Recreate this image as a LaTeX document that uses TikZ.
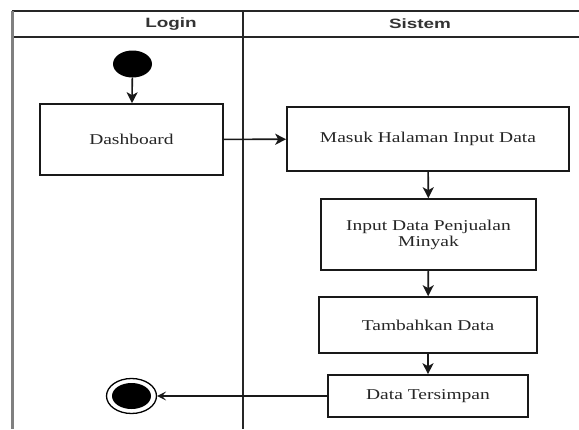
\documentclass[tikz,border=0pt]{standalone}
\usepackage{fontspec}
\setmainfont{Liberation Serif}[FakeStretch=1.3]
\newfontfamily\hdrfont{Liberation Sans}[FakeStretch=1.4]
\usetikzlibrary{arrows.meta,shapes.geometric}
\begin{document}
\begin{tikzpicture}[x=1pt,y=-1pt,
  act/.style={draw=black!90, line width=1.6pt, rectangle, inner sep=0pt, align=center,
    font=\fontsize{15}{18}\selectfont, text=black!85},
  flow/.style={line width=1.6pt, draw=black!90, -{Stealth[length=11pt,width=11pt,inset=3pt]}},
  lane/.style={line width=1.6pt, draw=black!85},
  hdr/.style={font=\hdrfont\bfseries\fontsize{13.5}{15}\selectfont, text=black!80, inner sep=0pt}]
\useasboundingbox (0,0) rectangle (579,429);
\fill[white] (0,0) rectangle (579,429);
% swimlane frame
\coordinate (tl) at (12,11);
\coordinate (tr) at (579,11);
\coordinate (hl) at (12,37);
\coordinate (hr) at (579,37);
\coordinate (bl) at (12,429);
\coordinate (dt) at (243,11);
\coordinate (db) at (243,429);
\draw[lane] (tl) -- (tr);
\draw[lane] (hl) -- (hr);
\draw[lane] (dt) -- (db);
\draw[line width=3pt, draw=black!50] (tl) -- (bl);
\node[hdr] (hlogin) at (171,24) {Login};
\node[hdr] (hsistem) at (420,24) {Sistem};
% nodes
\node[ellipse, fill=black, minimum width=39pt, minimum height=27pt, inner sep=0pt] (start) at (132.5,64) {};
\node[act, minimum width=183pt, minimum height=71pt] (dash) at (131.5,139.5) {Dashboard};
\node[act, minimum width=282pt, minimum height=64pt] (masuk) at (428,139) {Masuk Halaman Input Data};
\node[act, minimum width=215pt, minimum height=71pt] (input) at (428.5,234.5) {Input Data Penjualan\\[-2pt]Minyak};
\node[act, minimum width=218pt, minimum height=56pt] (tambah) at (428,325) {Tambahkan Data};
\node[act, minimum width=200pt, minimum height=42pt] (simpan) at (428,396) {Data Tersimpan};
\node[ellipse, draw=black, line width=1.3pt, minimum width=50pt, minimum height=35pt, inner sep=0pt] (end) at (131.5,396) {};
\node[ellipse, fill=black, minimum width=39pt, minimum height=26pt, inner sep=0pt] (endin) at (131.5,396) {};
% connectors
\draw[flow] (start) -- (dash);
\draw[flow] (dash) -- (masuk);
\draw[flow] (masuk) -- (input);
\draw[flow] (input) -- (tambah);
\draw[flow] (tambah) -- (simpan);
\draw[line width=1.4pt, draw=black!90, -{Stealth[length=9pt,width=9pt,inset=4pt]}] (simpan) -- (end);
\end{tikzpicture}
\end{document}
